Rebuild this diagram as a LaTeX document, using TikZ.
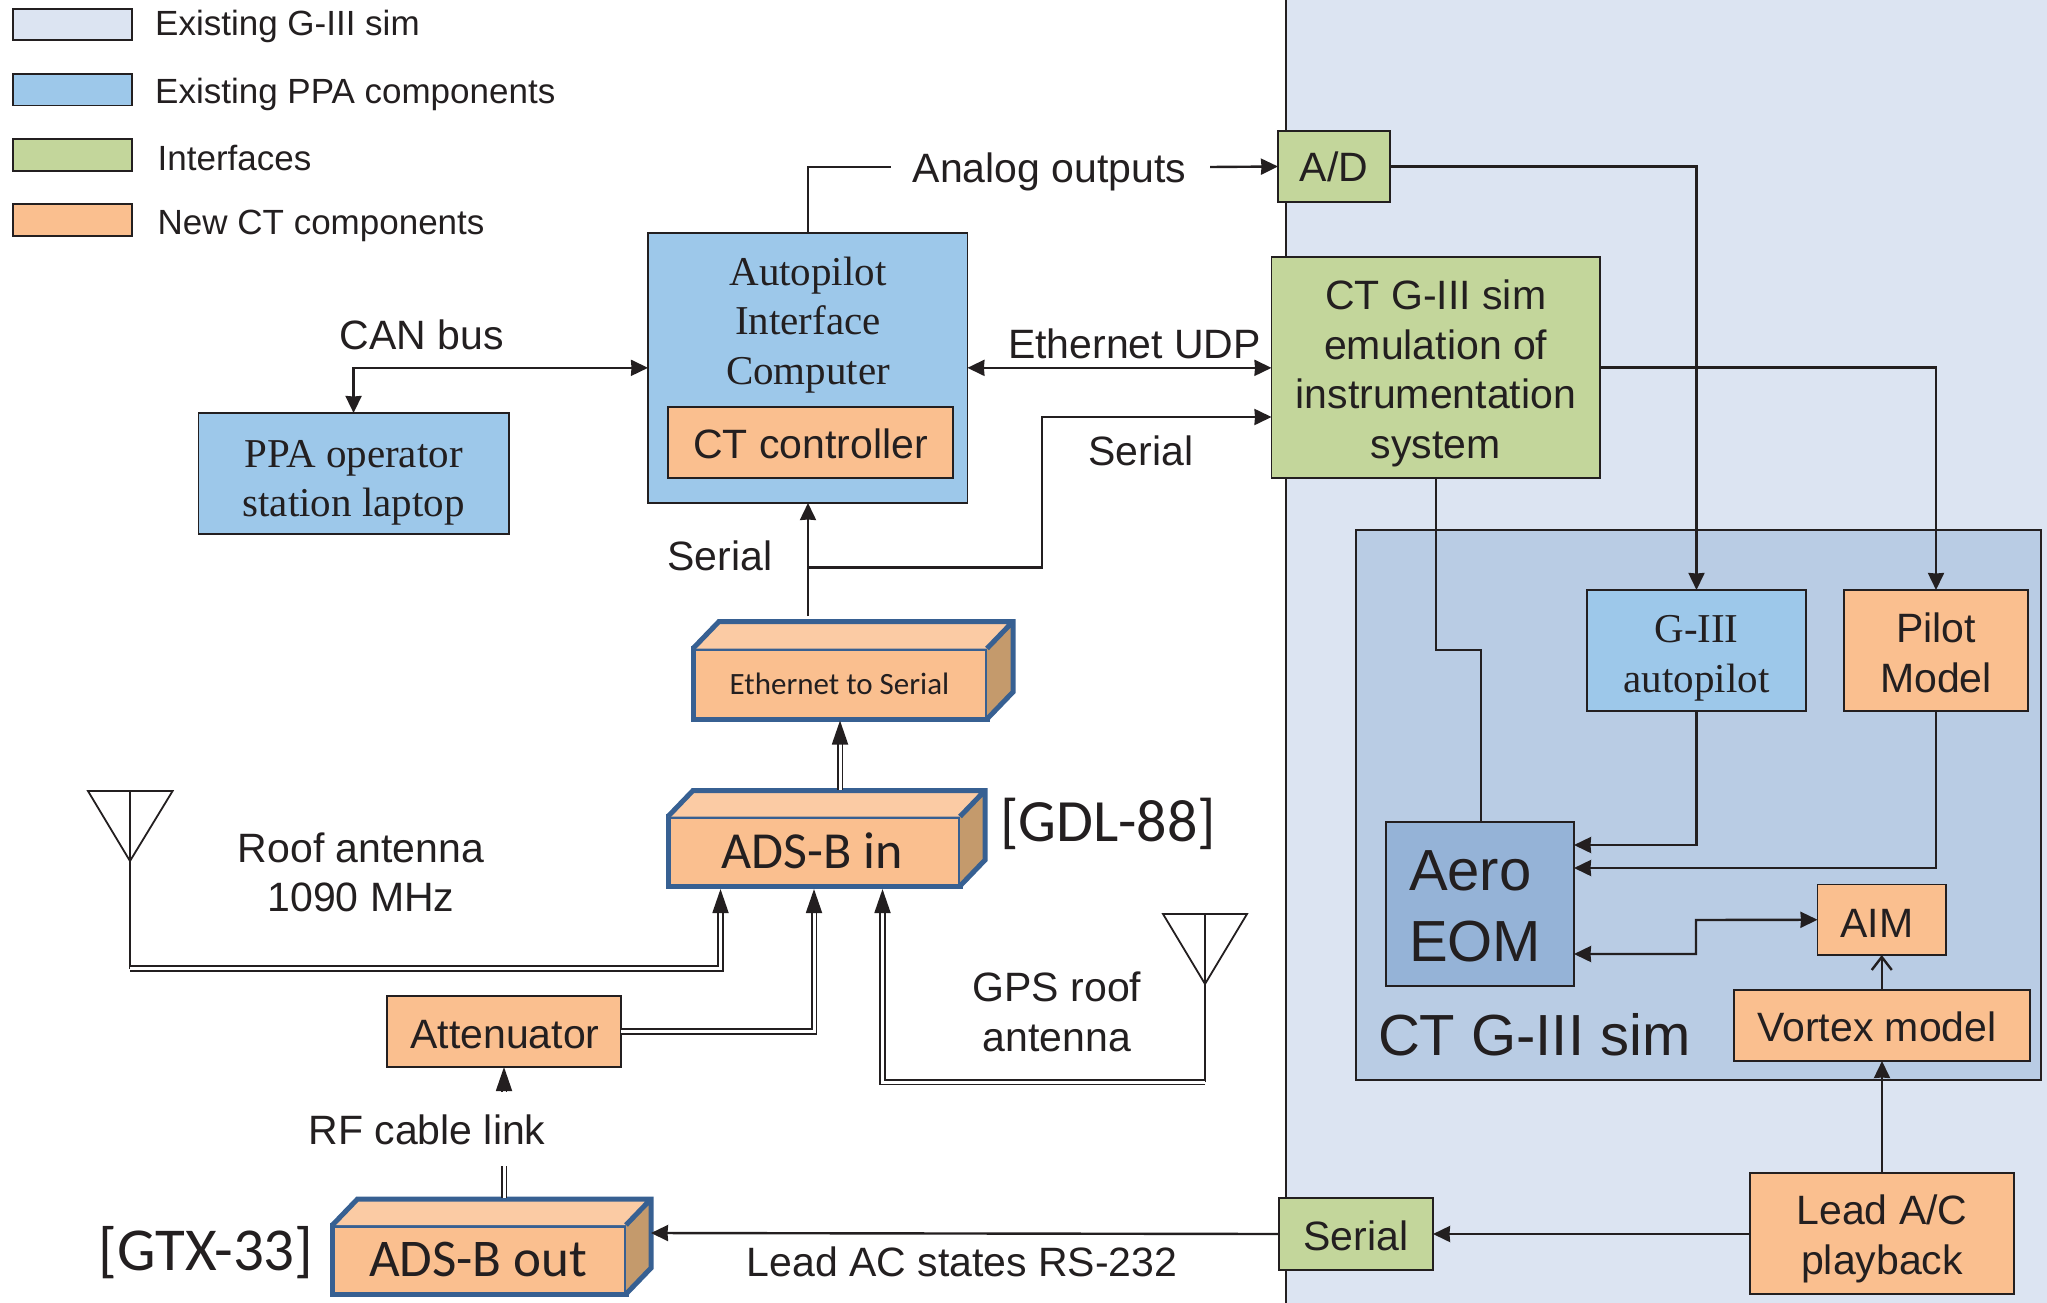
\documentclass[tikz,border=0pt]{standalone}
\usepackage{fontspec}
\setmainfont{Liberation Sans}
\newfontfamily\serf{Liberation Serif}
\newfontfamily\calib{Carlito}
\usetikzlibrary{arrows.meta}
\definecolor{ink}{HTML}{231F20}
\definecolor{simfill}{HTML}{DCE4F2}
\definecolor{innerfill}{HTML}{B9CCE4}
\definecolor{ppafill}{HTML}{9DC8EA}
\definecolor{ifacefill}{HTML}{C3D69B}
\definecolor{newfill}{HTML}{FABF8F}
\definecolor{aerofill}{HTML}{95B3D7}
\definecolor{topfill}{HTML}{FBCBA4}
\definecolor{sidefill}{HTML}{C49A6C}
\definecolor{bluebord}{HTML}{376092}
\tikzset{
  box/.style={draw=ink,line width=1.8pt,inner sep=0pt,outer sep=0pt,align=center,text=ink,font=\fontsize{41}{49.5}\selectfont},
  ppabox/.style={box,fill=ppafill},
  ifbox/.style={box,fill=ifacefill},
  newbox/.style={box,fill=newfill},
  lab/.style={inner sep=0pt,outer sep=0pt,text=ink,align=center,font=\fontsize{41}{49.5}\selectfont},
  leg/.style={inner sep=0pt,text=ink,anchor=base west,font=\fontsize{35}{40}\selectfont},
  conn/.style={draw=ink,line width=2.4pt},
  arr/.style={conn,-{Stealth[length=17pt,width=16pt,inset=0.5pt]}},
  darr/.style={conn,{Stealth[length=17pt,width=16pt,inset=0.5pt]}-{Stealth[length=17pt,width=16pt,inset=0.5pt]}},
  dbl/.style={draw=ink,line width=1.8pt,double=white,double distance=3pt},
  dblarr/.style={dbl,-{Stealth[length=24pt,width=16pt,inset=0pt]}},
  antenna/.style={draw=ink,line width=1.8pt,line join=miter},
  face/.style={draw=bluebord,line width=5pt,line join=miter},
  front/.style={newbox,draw=bluebord,line width=5pt}
}
\newcommand\dn[1]{\rule{0pt}{#1pt}}
\newcommand\bx[7]{%
  \pgfmathsetmacro\bxcx{(#2+#4)/2}\pgfmathsetmacro\bxcy{(#3+#5)/2}%
  \pgfmathsetmacro\bxw{#4-#2}\pgfmathsetmacro\bxh{#5-#3}%
  \node[#6,minimum width=\bxw pt,minimum height=\bxh pt] (#1) at (\bxcx,\bxcy) {#7};}
% name, front x1,y1,x2,y2, depth dx,dy
\newcommand\solid[7]{%
  \bx{#1}{#2}{#3}{#4}{#5}{front}{}%
  \fill[topfill] (#1.north west) -- ++(#6,-#7) -- ++(#4-#2,0) -- (#1.north east) -- cycle;
  \fill[sidefill] (#1.north east) -- ++(#6,-#7) -- ++(0,#5-#3) -- (#1.south east) -- cycle;
  \draw[face] (#1.north west) -- ++(#6,-#7) -- ++(#4-#2,0) -- ++(0,#5-#3) -- (#1.south east)
     (#1.north east) -- ++(#6,-#7);
}
\begin{document}
\begin{tikzpicture}[x=1pt,y=-1pt]
\useasboundingbox (0,0) rectangle (2047,1303);
% panels
\fill[simfill] (1286,0) rectangle (2047,1303);
\coordinate (pt) at (1286,0); \coordinate (pb) at (1286,1303);
\draw[ink,line width=1.8pt] (pt) -- (pb);
\bx{inner}{1356}{530}{2041}{1080}{box,fill=innerfill}{}
% legend
\bx{l1}{13}{9}{132}{40}{box,fill=simfill}{}
\bx{l2}{13}{74}{132}{105.6}{ppabox}{}
\bx{l3}{13}{139}{132}{171}{ifbox}{}
\bx{l4}{13}{204}{132}{236}{newbox}{}
\node[leg] (t1) at (155,35.6) {Existing G-III sim};
\node[leg] (t2) at (155,103.6) {Existing PPA components};
\node[leg] (t3) at (157.5,170) {Interfaces};
\node[leg] (t4) at (157.5,234) {New CT components};
% boxes
\bx{aic}{648}{232.7}{967.4}{503}{ppabox}{}
\node[lab,font=\serf\fontsize{41}{49.5}\selectfont] (aiclabel) at (808,325) {Autopilot\\Interface\\Computer};
\bx{ctc}{668}{407}{953}{478}{newbox}{\dn{32}CT controller}
\bx{ppa}{198.5}{413}{508.6}{534}{ppabox,font=\serf\fontsize{41}{49.5}\selectfont}{\dn{46}PPA operator\\station laptop}
\bx{ad}{1278}{131}{1390}{202}{ifbox}{A/D}
\bx{ctg}{1271.5}{257}{1600}{478}{ifbox}{\dn{41}CT G-III sim\\emulation of\\instrumentation\\system}
\bx{g3}{1587}{590}{1806}{711}{ppabox,font=\serf\fontsize{41}{49.5}\selectfont}{\dn{43}G-III\\autopilot}
\bx{pm}{1844}{590}{2028}{711}{newbox}{\dn{34}Pilot\\Model}
\bx{aero}{1386}{822}{1574}{986}{box,fill=aerofill}{}
\node[lab,anchor=base west,font=\fontsize{58}{70}\selectfont] (aerot) at (1409,890.7) {Aero};
\node[lab,anchor=base west,font=\fontsize{58}{70}\selectfont] (eomt) at (1409,961) {EOM};
\bx{aim}{1817.5}{884.5}{1946}{955}{newbox}{\dn{35}AIM\hspace*{10pt}}
\bx{vm}{1734}{990}{2030}{1061}{newbox}{\dn{33}Vortex model\hspace*{10pt}}
\bx{lead}{1750}{1173}{2014}{1294}{newbox}{\dn{40}Lead A/C\\playback}
\bx{ser}{1279}{1198}{1433}{1270}{ifbox}{\dn{34}Serial}
\bx{att}{387}{996}{621}{1067}{newbox}{\dn{34}\hspace*{2pt}Attenuator}
\node[lab,anchor=base west,font=\fontsize{58}{70}\selectfont] (simt) at (1378,1055.5) {CT G-III sim};
% 3D boxes
\solid{eth}{693}{648.5}{987}{719}{26}{27}
\node[lab,anchor=base,font=\calib\fontsize{31}{34}\selectfont] (etht) at (839.5,694) {Ethernet to Serial};
\solid{adin}{668}{816.5}{960}{886}{25}{26}
\node[lab,anchor=base,font=\calib\fontsize{52}{56}\selectfont] (adint) at (812,868) {ADS-B in};
\solid{adout}{332.5}{1225}{626}{1294}{25}{26}
\node[lab,anchor=base,font=\calib\fontsize{53}{56}\selectfont] (adoutt) at (478,1276) {ADS-B out};
\node[lab,anchor=base west,font=\calib\fontsize{60}{64}\selectfont] (gdl) at (1000,841) {[GDL-88]};
\node[lab,anchor=base,font=\calib\fontsize{61}{64}\selectfont] (gtx) at (206,1270) {[GTX-33]};
% free labels
\node[lab,anchor=base] (analog) at (1049.5,182) {Analog outputs};
\node[lab,anchor=base] (can) at (422,349.5) {CAN bus};
\node[lab,anchor=base] (udp) at (1134.5,358) {Ethernet UDP};
\node[lab,anchor=base] (s1) at (1141,465) {Serial};
\node[lab,anchor=base] (s2) at (720,570.5) {Serial};
\node[lab] (roof) at (361,872.5) {Roof antenna\\1090 MHz};
\node[lab] (gps) at (1057,1012) {GPS roof\\antenna};
\node[lab,anchor=base] (rf) at (427,1144.6) {RF cable link};
\node[lab,anchor=base] (lac) at (962,1276) {Lead AC states RS-232};
% antennas
\coordinate (a1l) at (88,791); \coordinate (a1r) at (172.6,791); \coordinate (a1a) at (130,861); \coordinate (a1t) at (130,791);
\draw[antenna] (a1l) -- (a1r) -- (a1a) -- cycle;
\coordinate (a1b) at (130,968.5);
\draw[antenna] (a1t) -- (a1b);
\coordinate (a2l) at (1163,914); \coordinate (a2r) at (1247,914); \coordinate (a2a) at (1205,984); \coordinate (a2t) at (1205,914);
\draw[antenna] (a2l) -- (a2r) -- (a2a) -- cycle;
\coordinate (a2b) at (1205,1082);
\draw[antenna] (a2t) -- (a2b);
% double connectors
\coordinate (in1) at (720.5,889);
\coordinate (in2) at (814,889);
\coordinate (in3) at (882.5,889);
\draw[dblarr] (a1b) -- (in1 |- a1b) -- (in1);
\draw[dblarr] (att.east) -- (att.east -| in2) -- (in2);
\draw[dblarr] (a2b) -- (a2b -| in3) -- (in3);
\coordinate (ethin) at (840,720.5); \coordinate (adintop) at (840,790);
\draw[dblarr] (adintop) -- (ethin);
\coordinate (rfa) at (504,1198); \coordinate (rfb) at (504,1166);
\draw[dbl] (rfa) -- (rfb);
\coordinate (rfc) at (504,1092);
\draw[dblarr] (rfc) -- (att.south -| rfc);
% single connectors
\coordinate (e1) at (808,616); \coordinate (e2) at (808,567.5); \coordinate (e3) at (1042,567.5);
\draw[arr] (e1) -- (aic.south -| e1);
\draw[arr] (e2) -- (e3) -- (e3 |- 1271.5,417) -- (1271.5,417) coordinate (ctgin);
\coordinate (an1) at (891,167); \coordinate (an2) at (1210,167);
\draw[conn] (aic.north -| e1) -- (e1 |- an1) -- (an1);
\draw[arr] (an2) -- (ad.west);
\draw[arr] (ad.east) -- (ad.east -| g3.north) -- (g3.north);
\draw[darr] (ppa.north) -- (ppa.north |- aic.west) -- (aic.west);
\draw[darr] (aic.east) -- (aic.east -| ctg.west);
\draw[arr] (ctg.east) -- (ctg.east -| pm.north) -- (pm.north);
\coordinate (w1) at (1436,650); \coordinate (w2) at (1481,650);
\draw[conn] (ctg.south -| w1) -- (w1) -- (w2) -- (aero.north -| w2);
\coordinate (q1) at (1574,845); \coordinate (q2) at (1574,868);
\draw[arr] (g3.south) -- (g3.south |- q1) -- (q1);
\draw[arr] (pm.south) -- (pm.south |- q2) -- (q2);
\coordinate (q3) at (1574,954); \coordinate (q4) at (1696,954); \coordinate (q5) at (1696,920);
\draw[darr] (q3) -- (q4) -- (q5) -- (aim.west);
\draw[conn,-{Straight Barb[length=13pt,width=20pt]}] (vm.north -| aim.south) -- (aim.south);
\draw[arr] (lead.north) -- (lead.north |- vm.south);
\draw[arr] (lead.west |- ser.east) -- (ser.east);
\coordinate (adoutr) at (651,1233);
\draw[arr] (ser.west) -- (adoutr);
\end{tikzpicture}
\end{document}
